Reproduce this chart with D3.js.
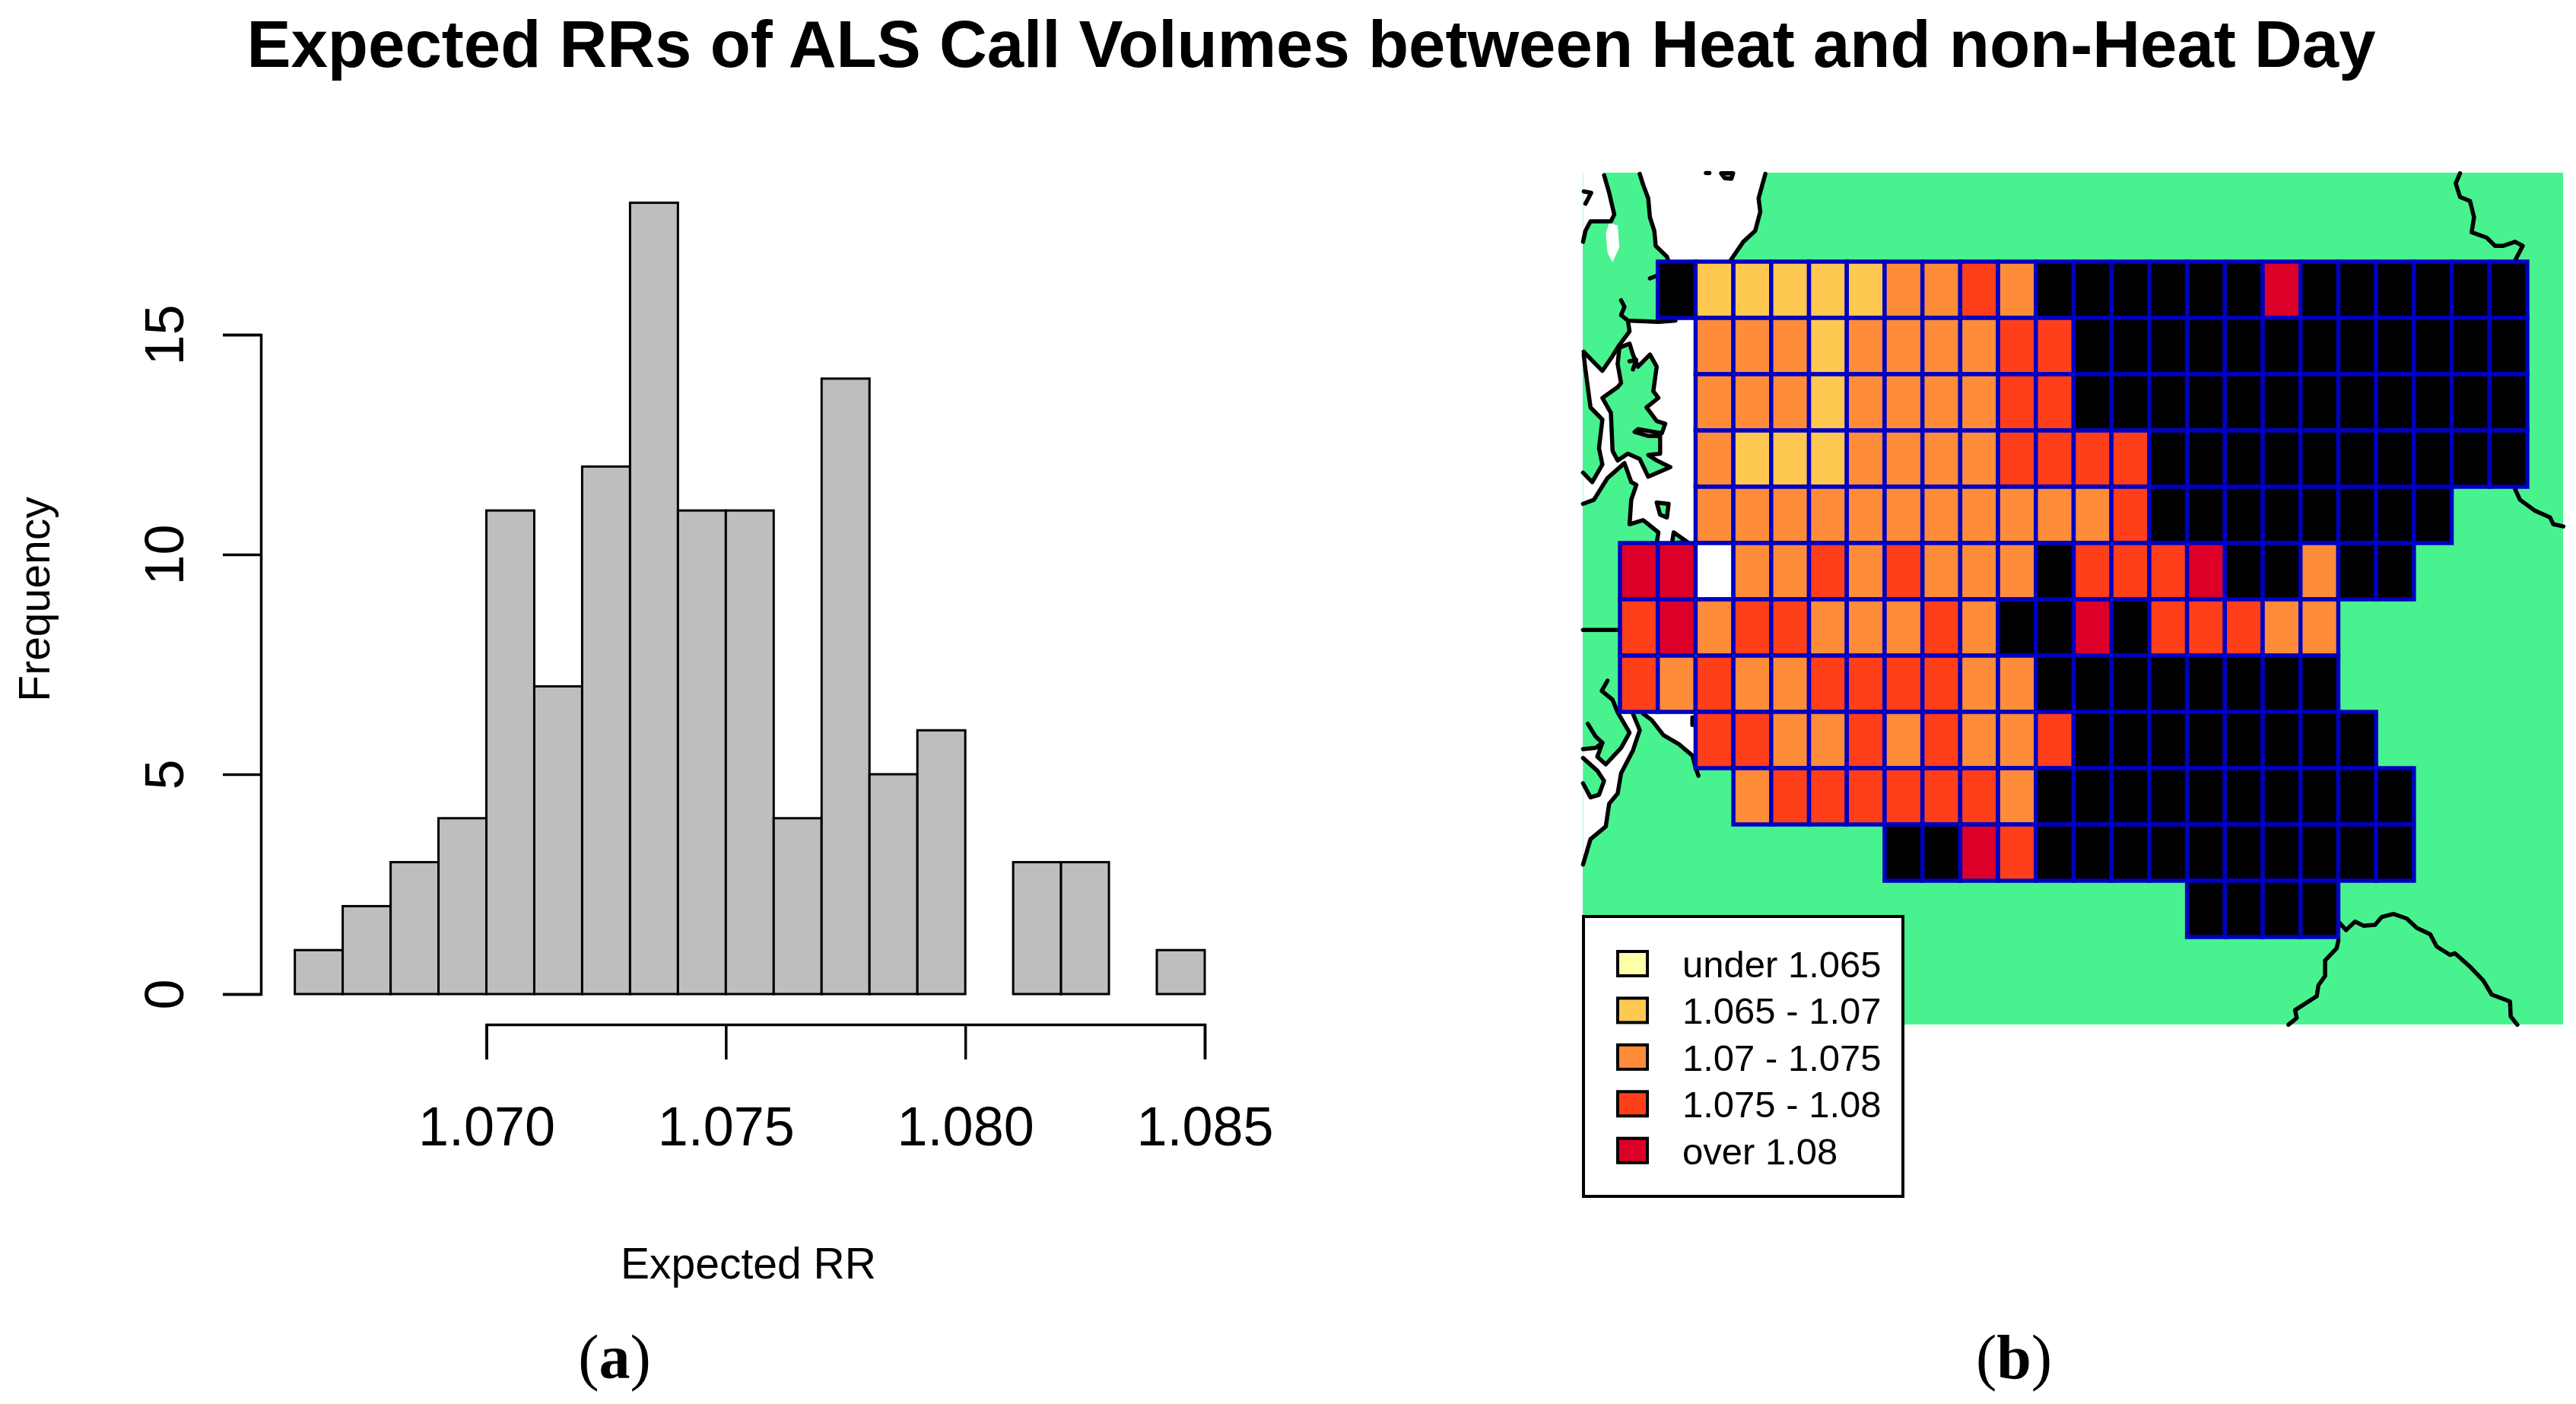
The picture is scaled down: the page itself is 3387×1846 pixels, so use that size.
<!DOCTYPE html>
<html><head><meta charset="utf-8">
<script src="https://cdn.jsdelivr.net/npm/d3@7"></script>
<style>html,body{margin:0;padding:0;background:#fff}svg{display:block}text{font-family:"Liberation Sans",Arial,sans-serif;fill:#000}</style>
</head><body><svg id="c" width="3387" height="1846"></svg>
<script>
// ---- histogram data
const binStarts = [1.066,1.067,1.068,1.069,1.070,1.071,1.072,1.073,1.074,1.075,1.076,1.077,1.078,1.079,1.080,1.081,1.082,1.083,1.084];
const binWidth = 0.001;
const frequencies = [1,2,3,4,11,7,12,18,11,11,4,14,5,6,0,3,3,0,1];
const xTicks = [1.070,1.075,1.080,1.085];
const yTicks = [0,5,10,15];

// ---- grid map data: first column per row, then one class per cell
// K = no significant value (black), W = missing, 0..4 = legend classes
const rowStart = [1,2,2,2,2,0,0,0,2,3,7,15];
const gridRows = [
 "K11111223" + "2KKKKKK4KKKKKK",
 "2221222233KKKKKKKKKKKK",
 "2221222233KKKKKKKKKKKK",
 "211122223333KKKKKKKKKK",
 "222222222223KKKKKKKK",
 "44W22323222K3334KK2KK",
 "3423322232KK4K33322",
 "32322333322KKKKKKKK",
 "3322323223KKKKKKKK",
 "23333332KKKKKKKKKK",
 "KK43KKKKKKKKKK",
 "KKKK"
];
const gridCols = 24, gridRowsN = 12;
const classColors = {K:"#000000",W:"#ffffff",0:"#FFFFA8",1:"#FFC850",2:"#FF8C38",3:"#FF3E1A",4:"#DC0028"};
const legendLabels = ["under 1.065","1.065 - 1.07","1.07 - 1.075","1.075 - 1.08","over 1.08"];
const legendClasses = [0,1,2,3,4];

// ---- basemap, traced in tile units (tile = 1568 units across)
const waterNW = [[[48,75],[110,75],[125,150],[140,230],[130,255],[70,255],[55,290],[48,330]],
 [[215,75],[225,120],[240,170],[245,240],[258,290],[262,345],[295,385],[300,403],[480,403],[520,330],[555,290],[570,220],[565,170],[585,80],[590,75]],
 [[125,260],[150,270],[155,350],[135,405],[120,370],[115,300]],
 [[380,615],[320,620],[270,625],[180,620],[185,660],[155,710],[130,760],[105,805],[85,780],[50,735],[48,745],[55,800],[70,940],[105,985],[95,1090],[105,1150],[75,1215],[48,1180],[48,1295],[80,1280],[120,1200],[170,1145],[190,1215],[205,1225],[190,1280],[185,1370],[225,1355],[270,1400],[265,1440],[380,1440]]];
const landNW = [
 [[155,720],[185,705],[195,745],[210,790],[245,745],[265,790],[255,880],[270,905],[235,940],[265,990],[290,1000],[280,1035],[210,1020],[200,1030],[240,1045],[275,1045],[275,1110],[240,1115],[265,1135],[305,1160],[240,1195],[215,1130],[180,1110],[150,1135],[135,1100],[130,960],[105,905],[150,865],[160,850],[150,780]],
 [[265,1290],[300,1295],[295,1345],[275,1335]],
 [[315,1400],[355,1435],[310,1440]],
 [[455,78],[490,78],[485,98],[465,96]]
];
const coastNW = [
 [[110,85],[125,150],[140,230],[130,255],[70,255],[55,290],[48,330]],
 [[215,80],[225,120],[240,170],[245,240],[258,290],[262,345],[295,385],[300,403]],
 [[480,403],[520,330],[555,290],[570,220],[565,170],[585,80]],
 [[160,545],[170,570],[160,600],[180,620],[270,625],[320,620]],
 [[180,620],[185,660],[155,710],[130,760],[105,805],[85,780],[50,735]],
 [[50,745],[55,800],[70,940],[105,985],[95,1090],[105,1150],[75,1215],[48,1180]],
 [[48,1295],[80,1280],[120,1200],[170,1145],[190,1215],[205,1225],[190,1280],[185,1370],[225,1355],[270,1400],[265,1440]],
 [[185,770],[205,765],[195,800]],[[50,145],[72,150],[55,190]],[[245,465],[265,455]],[[410,77],[420,77]]
];
const waterSW = [[[150,650],[195,655],[215,720],[195,800],[160,890],[150,970],[125,1010],[115,1100],[70,1150],[48,1250],[48,800],[95,795],[90,825],[115,855],[160,790],[185,730]],
 [[225,655],[380,655],[380,860],[370,820],[330,775],[285,740],[250,680]]];
const landSW = [[[48,830],[90,880],[110,920],[95,975],[70,985],[48,930]]];
const coastSW = [
 [[48,325],[155,325]],
 [[120,525],[103,565],[135,600],[150,650],[185,730],[160,790],[115,855],[90,825],[105,770],[85,745],[62,695]],
 [[48,795],[85,790],[105,770]],
 [[195,655],[215,720],[195,800],[160,890],[150,970],[125,1010],[115,1100],[70,1150],[48,1250]],
 [[225,655],[250,680],[285,740],[330,775],[370,820],[380,870],[388,900]],
 [[48,830],[90,880],[110,920],[95,975],[70,985],[48,930]],[[370,670],[370,700]],[[382,100],[386,106]],[[480,150],[484,160]]
];
const coastNE = [
 [[1220,78],[1207,115],[1220,165],[1250,180],[1262,240],[1255,295],[1300,315],[1325,345],[1350,345],[1385,330],[1408,345],[1385,400]],
 [[1385,1240],[1400,1280],[1445,1320],[1490,1345],[1500,1370],[1530,1378]]
];
const coastSE = [
 [[855,1205],[878,1232],[905,1205],[930,1218],[965,1215],[985,1190],[1020,1180],[1060,1195],[1090,1225],[1130,1245],[1150,1285],[1190,1312],[1205,1307],[1250,1350],[1290,1395],[1315,1440],[1370,1462],[1372,1510],[1392,1537]],
 [[855,1265],[850,1290],[815,1330],[815,1380],[795,1410],[790,1445],[725,1490],[730,1515],[705,1537]]
];

const svg = d3.select("#c");
const arial = '"Liberation Sans",Arial,sans-serif';

svg.append("text").attr("x",1724).attr("y",88).attr("text-anchor","middle")
  .attr("font-size",87).attr("font-weight","700")
  .text("Expected RRs of ALS Call Volumes between Heat and non-Heat Day");

// ---- histogram
const x = d3.scaleLinear().domain([1.070,1.085]).range([639.5,1584]);
const y = d3.scaleLinear().domain([0,15]).range([1307,440]);
svg.append("g").selectAll("rect").data(frequencies).join("rect")
  .attr("x",(d,i)=>x(binStarts[i])).attr("width",x(binWidth+1.07)-x(1.07))
  .attr("y",d=>y(d)).attr("height",d=>y(0)-y(d))
  .attr("fill","#BEBEBE").attr("stroke","#000").attr("stroke-width",3);

const gx = svg.append("g").attr("transform","translate(0,1347)")
  .call(d3.axisBottom(x).tickValues(xTicks).tickFormat(d3.format(".3f")).tickSize(46).tickPadding(62));
const gy = svg.append("g").attr("transform","translate(343,0)")
  .call(d3.axisLeft(d3.scaleLinear().domain([0,15]).range([y(0),y(15)])).tickValues(yTicks).tickSize(50).tickSizeOuter(50));
[gx,gy].forEach(g=>{g.selectAll("path,line").attr("stroke","#000").attr("stroke-width",3.5);
  g.selectAll("text").attr("font-size",72).attr("font-family",arial).attr("fill","#000");});
gy.selectAll(".tick text").attr("x",null).attr("dy",null).attr("text-anchor","middle")
  .attr("transform","translate(-102,0) rotate(-90)");
svg.append("text").attr("x",984).attr("y",1681).attr("text-anchor","middle").attr("font-size",57).text("Expected RR");
svg.append("text").attr("transform","translate(65,788) rotate(-90)").attr("text-anchor","middle").attr("font-size",57).text("Frequency");

// ---- map
const frame = {x0:2081,y0:227,x1:3370,y1:1347};
const m = svg.append("g");
m.append("rect").attr("x",frame.x0).attr("y",frame.y0).attr("width",frame.x1-frame.x0).attr("height",frame.y1-frame.y0).attr("fill","#48F28E");

function tile(x0,x1,y0,y1){
  const sx=d3.scaleLinear().domain([0,1568]).range([x0,x1]), sy=d3.scaleLinear().domain([0,1568]).range([y0,y1]);
  return {open:d3.line().x(d=>sx(d[0])).y(d=>sy(d[1])), closed:d3.line().curve(d3.curveLinearClosed).x(d=>sx(d[0])).y(d=>sy(d[1]))};
}
const tNW=tile(2060,2760,200,760), tSW=tile(2060,2760,720,1242.67), tNE=tile(2700,3387,200,760), tSE=tile(2700,3387,720,1360);
function area(data,fill,t){m.append("g").selectAll("path").data(data).join("path").attr("d",t.closed).attr("fill",fill);}
function coast(data,gen){m.append("g").selectAll("path").data(data).join("path").attr("d",gen).attr("fill","none").attr("stroke","#000").attr("stroke-width",5.5).attr("stroke-linejoin","round").attr("stroke-linecap","round");}
area(waterNW,"#fff",tNW); area(waterSW,"#fff",tSW);
area(landNW,"#48F28E",tNW); area(landSW,"#48F28E",tSW);
coast(coastNW,tNW.open); coast(coastSW,tSW.open); coast(coastNE,tNE.open); coast(coastSE,tSE.open);
coast(landNW,tNW.closed);

const col = d3.scaleLinear().domain([0,gridCols]).range([2130,3323]);
const row = d3.scaleLinear().domain([0,gridRowsN]).range([344,1232]);
const cells = gridRows.flatMap((s,r)=>Array.from(s).map((c,i)=>({r,c:i+rowStart[r],k:c})));
m.append("g").selectAll("rect").data(cells).join("rect")
  .attr("x",d=>col(d.c)).attr("y",d=>row(d.r))
  .attr("width",col(1)-col(0)).attr("height",row(1)-row(0))
  .attr("fill",d=>classColors[d.k]).attr("stroke","#0000C0").attr("stroke-width",5.5);

// ---- legend
const lg = svg.append("g");
lg.append("rect").attr("x",2082).attr("y",1205).attr("width",420).attr("height",368).attr("fill","#fff").attr("stroke","#000").attr("stroke-width",4);
const ly = d3.scalePoint().domain(legendClasses).range([1267,1512.7]);
lg.selectAll(".sw").data(legendClasses).join("rect").attr("class","sw")
  .attr("x",2127).attr("width",39).attr("y",d=>ly(d)-16).attr("height",32)
  .attr("fill",d=>classColors[d]).attr("stroke","#000").attr("stroke-width",4);
lg.selectAll("text").data(legendClasses).join("text")
  .attr("x",2212).attr("y",d=>ly(d)+18).attr("font-size",49).text(d=>legendLabels[d]);

// ---- panel letters
function letter(cx,s){
  const t=svg.append("text").attr("x",cx).attr("y",1812).attr("text-anchor","middle").attr("font-size",82).style("font-family",'"Liberation Serif",serif');
  t.append("tspan").text("(");t.append("tspan").attr("font-weight","700").text(s);t.append("tspan").text(")");
}
letter(808,"a"); letter(2648,"b");
</script></body></html>
